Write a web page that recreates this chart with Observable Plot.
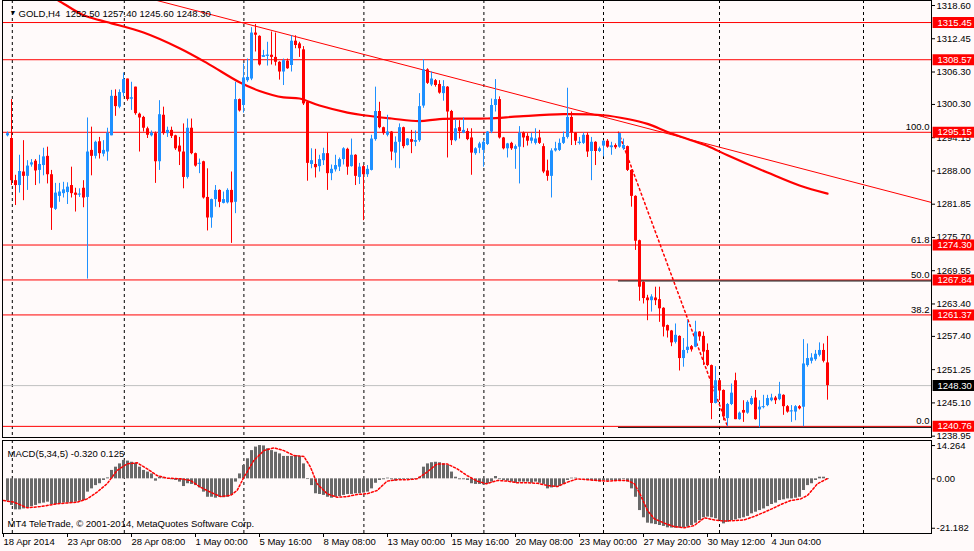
<!DOCTYPE html>
<html><head><meta charset="utf-8">
<script src="https://cdn.jsdelivr.net/npm/d3@7"></script>
<script src="https://cdn.jsdelivr.net/npm/@observablehq/plot@0.6"></script>
<style>
html,body{margin:0;padding:0;background:#fffafa;}
#wrap{position:relative;width:974px;height:551px;overflow:hidden;background:#fffafa;}
#wrap svg{position:absolute;left:0;}
</style></head><body><div id="wrap"></div>
<script>
// ---- Candles (H4 bars, index 0..205) ----
const opens = [1294.5,1294.0,1286.2,1285.3,1287.8,1287.0,1289.1,1289.8,1288.1,1289.0,
1290.7,1287.3,1280.9,1283.3,1283.8,1284.0,1285.3,1283.9,1283.6,1284.8,
1283.1,1291.8,1290.7,1293.4,1291.1,1291.5,1294.5,1301.8,1299.8,1302.4,
1305.0,1301.3,1303.5,1298.5,1297.9,1295.8,1294.5,1294.9,1289.7,1298.3,
1294.9,1295.5,1294.5,1292.6,1291.5,1286.8,1295.9,1291.2,1289.3,1289.7,
1283.1,1279.3,1282.7,1284.4,1282.0,1282.1,1284.4,1282.2,1301.2,1300.1,
1304.7,1305.0,1313.5,1312.9,1309.0,1309.2,1309.4,1309.0,1308.1,1306.3,
1308.3,1307.5,1312.0,1311.5,1310.4,1300.7,1289.2,1289.2,1288.8,1289.9,
1291.2,1287.5,1288.2,1288.7,1290.1,1292.0,1288.8,1290.9,1286.8,1288.8,
1287.3,1288.1,1293.8,1299.0,1296.0,1294.6,1295.2,1291.3,1293.3,1296.0,
1292.7,1293.8,1293.3,1293.6,1300.0,1306.7,1303.9,1304.7,1304.0,1302.3,
1303.5,1299.0,1293.6,1296.0,1295.0,1295.3,1294.1,1291.2,1292.2,1291.8,
1292.9,1295.2,1300.1,1301.2,1294.1,1292.1,1293.1,1292.0,1292.4,1295.0,
1294.4,1293.5,1293.1,1294.1,1292.5,1288.0,1287.0,1291.7,1291.8,1293.1,
1294.2,1297.9,1295.0,1293.1,1293.1,1294.6,1291.6,1293.3,1291.6,1292.6,
1293.5,1292.3,1292.7,1292.4,1292.1,1292.5,1288.1,1283.3,1275.1,1267.4,
1264.5,1264.0,1264.5,1264.2,1262.6,1259.4,1258.4,1256.3,1257.4,1253.3,
1254.8,1255.5,1255.4,1258.2,1257.4,1254.8,1252.0,1245.0,1249.2,1247.4,
1242.2,1244.8,1249.2,1242.0,1243.7,1243.2,1244.8,1246.0,1243.8,1244.3,
1244.6,1245.5,1246.0,1245.7,1246.5,1244.4,1243.5,1243.4,1244.4,1244.3,
1252.0,1252.8,1253.1,1253.9,1254.8,1252.50];
const highs = [1295.2,1301.2,1287.2,1290.9,1293.6,1289.9,1290.1,1290.1,1290.9,1292.2,
1292.4,1288.1,1285.7,1285.7,1285.9,1285.8,1288.7,1284.8,1284.7,1286.2,
1297.8,1296.1,1293.5,1294.2,1293.6,1295.9,1302.9,1303.0,1303.0,1306.1,
1305.0,1304.4,1303.5,1298.7,1298.1,1296.1,1295.4,1295.2,1301.0,1299.8,
1296.1,1296.1,1294.6,1294.2,1296.7,1297.6,1297.6,1291.3,1290.2,1289.8,
1288.4,1282.8,1285.3,1284.5,1284.1,1284.7,1287.8,1304.4,1301.3,1307.8,
1308.7,1314.5,1315.1,1313.0,1310.3,1311.8,1313.7,1313.5,1308.2,1308.7,
1308.7,1313.0,1313.0,1311.8,1311.0,1300.7,1292.1,1292.0,1290.9,1292.2,
1295.0,1289.1,1290.9,1290.4,1292.3,1292.2,1293.9,1291.0,1289.4,1289.0,
1289.0,1294.6,1303.5,1300.7,1296.1,1298.3,1295.3,1294.3,1296.7,1296.1,
1294.0,1295.5,1295.4,1302.3,1308.6,1306.9,1306.3,1304.9,1304.7,1304.7,
1303.6,1299.2,1297.5,1297.3,1297.8,1295.8,1295.8,1292.3,1293.3,1293.6,
1295.3,1301.3,1304.9,1301.7,1294.2,1293.1,1293.3,1292.8,1296.2,1295.2,
1294.9,1295.0,1295.8,1295.5,1293.0,1290.0,1292.1,1293.3,1293.9,1295.2,
1303.3,1298.9,1295.1,1294.2,1295.0,1295.0,1294.2,1293.4,1292.4,1293.6,
1293.8,1293.3,1293.0,1295.0,1293.9,1292.6,1288.2,1283.4,1275.2,1267.5,
1265.0,1265.1,1266.5,1266.5,1262.7,1259.5,1258.5,1259.7,1257.5,1257.0,
1260.3,1255.7,1260.2,1258.3,1258.2,1256.0,1252.1,1251.8,1249.3,1247.5,
1245.0,1248.6,1250.6,1243.4,1245.5,1245.5,1246.3,1247.4,1245.5,1246.5,
1246.5,1246.7,1246.3,1248.9,1246.6,1244.6,1244.6,1244.6,1244.6,1256.8,
1256.0,1254.2,1254.8,1256.2,1256.0,1257.40];
const lows = [1294.3,1285.3,1281.6,1283.9,1282.5,1284.4,1288.7,1285.3,1285.6,1287.1,
1285.6,1277.0,1280.7,1282.2,1283.0,1281.8,1283.0,1280.4,1283.1,1281.2,
1268.0,1287.1,1290.2,1290.2,1290.6,1289.8,1294.5,1298.1,1299.5,1301.7,
1300.9,1299.2,1298.3,1291.5,1295.2,1294.0,1294.3,1285.7,1288.1,1294.6,
1294.2,1294.0,1291.8,1289.0,1284.7,1286.5,1291.0,1288.7,1287.5,1282.8,
1276.9,1277.4,1281.3,1281.2,1281.9,1281.9,1274.6,1280.1,1298.9,1298.7,
1304.4,1304.7,1310.0,1307.4,1309.0,1307.4,1307.6,1307.4,1304.8,1303.8,
1306.8,1306.3,1310.6,1309.0,1300.1,1286.1,1288.4,1286.7,1287.8,1289.0,
1284.4,1286.2,1287.8,1287.9,1289.1,1287.2,1288.7,1285.3,1285.5,1278.8,
1286.8,1288.0,1293.5,1295.8,1294.6,1294.3,1289.9,1288.5,1288.4,1292.1,
1292.6,1291.2,1292.5,1293.3,1299.6,1304.0,1303.6,1303.5,1302.2,1300.9,
1290.4,1292.7,1293.4,1293.9,1294.9,1293.6,1287.2,1290.9,1291.2,1288.7,
1292.7,1294.9,1298.9,1293.9,1291.9,1290.4,1291.8,1288.3,1285.6,1292.3,
1292.6,1293.0,1292.8,1292.9,1287.5,1286.1,1283.0,1291.5,1291.6,1292.9,
1293.9,1292.7,1292.7,1292.8,1292.9,1290.5,1286.2,1289.0,1291.4,1290.6,
1292.2,1290.9,1292.0,1292.2,1291.8,1287.9,1281.3,1273.3,1263.9,1263.4,
1260.3,1261.9,1263.1,1260.0,1257.3,1257.1,1255.5,1256.0,1251.0,1251.7,
1254.2,1254.5,1255.3,1256.5,1252.0,1251.8,1242.0,1244.9,1245.5,1241.8,
1240.7,1244.6,1242.0,1241.9,1241.5,1243.0,1244.6,1241.9,1240.5,1244.0,
1244.4,1245.3,1244.8,1245.5,1242.8,1243.2,1241.5,1241.8,1243.8,1240.7,
1251.7,1252.3,1252.8,1253.6,1252.5,1245.60];
const closes = [1294.9,1286.2,1285.3,1287.9,1287.0,1288.9,1289.5,1288.0,1289.2,1290.6,
1287.3,1281.1,1283.9,1284.1,1284.5,1285.0,1283.8,1283.5,1283.7,1283.0,
1291.5,1290.7,1293.3,1291.2,1291.8,1295.0,1301.8,1299.9,1302.5,1304.9,
1301.2,1301.5,1298.6,1297.8,1295.9,1294.6,1295.0,1289.7,1298.4,1294.9,
1295.5,1294.4,1292.1,1291.5,1286.8,1295.9,1291.2,1288.9,1289.4,1283.0,
1279.3,1282.7,1284.4,1282.2,1282.7,1284.4,1282.1,1301.2,1299.1,1305.2,
1305.3,1313.5,1313.1,1307.6,1309.3,1309.4,1309.0,1308.1,1306.3,1308.4,
1306.9,1312.0,1311.2,1310.6,1300.4,1289.4,1289.9,1288.6,1290.1,1291.2,
1287.5,1288.3,1289.0,1290.1,1292.1,1288.7,1290.9,1287.0,1288.7,1287.3,
1288.3,1293.9,1299.0,1296.0,1294.9,1295.2,1291.5,1293.3,1296.0,1292.5,
1293.9,1293.3,1293.6,1299.9,1306.7,1304.2,1305.0,1303.8,1302.4,1303.6,
1298.9,1293.6,1295.8,1295.3,1295.5,1293.8,1291.3,1292.1,1293.0,1293.3,
1295.2,1300.1,1301.2,1294.1,1292.1,1293.0,1292.1,1292.5,1295.0,1294.1,
1293.5,1294.1,1293.9,1293.1,1287.8,1287.0,1291.7,1292.1,1293.1,1294.2,
1297.9,1295.0,1293.5,1293.3,1294.6,1291.5,1293.3,1291.6,1292.1,1293.5,
1292.4,1292.6,1292.3,1294.9,1292.7,1288.1,1283.3,1275.0,1266.5,1264.4,
1264.0,1264.7,1264.0,1262.5,1259.1,1258.4,1256.2,1257.6,1253.3,1254.8,
1255.4,1254.9,1258.2,1257.3,1254.5,1252.0,1245.0,1249.2,1247.3,1242.5,
1244.8,1246.9,1242.0,1243.2,1243.2,1245.2,1245.9,1242.0,1244.3,1244.4,
1245.9,1246.0,1245.5,1246.7,1244.4,1243.4,1243.6,1244.4,1244.0,1252.3,
1253.3,1253.4,1254.1,1254.8,1252.8,1248.30];

// ---- Moving average (key points: bar index, price) ----
const maIdx = [12,13,19,23,26,34,43,50,58,63,69,73,78,85,89,96,103,108,120,128,139,149,155,160,165,170,175,180,190,198,205];
const maVal = [1319.8,1319.4,1316.8,1315.9,1315.3,1313.6,1310.7,1307.9,1304.4,1302.8,1301.6,1301.4,1300.1,1298.8,1298.3,1297.7,1297.2,1297.6,1297.7,1298.1,1298.5,1298.3,1297.6,1296.7,1295.2,1293.9,1292.6,1290.9,1287.7,1285.3,1283.8];

// ---- Trend line and Fibonacci anchors ----
const trendIdx = [37, 231];
const trendVal = [1319.6, 1282.17];
const fibIdx = [152.75, 180];
const fibVal = [1295.15, 1240.76];
const fibNames = ["100.0", "61.8", "50.0", "38.2", "0.0"];
const fibPrices = [1295.15, 1274.30, 1267.84, 1261.37, 1240.76];
const fibDarkPrices = [1267.84, 1240.76];

// ---- Horizontal levels ----
const levelPrices = [1315.45, 1308.57, 1295.15, 1274.30, 1267.84, 1261.37, 1240.76];
const bidPrice = 1248.30;

// ---- Axes ----
const priceTicks = [1318.60, 1312.45, 1306.30, 1300.30, 1294.15, 1288.00, 1281.85, 1275.70, 1269.55, 1263.40, 1257.40, 1251.25, 1245.10, 1238.95];
const timeTickIdx = [-1, 15, 31, 47, 63, 79, 95, 111, 127, 143, 159, 175, 191];
const timeTickLabels = ["18 Apr 2014","23 Apr 08:00","28 Apr 08:00","1 May 00:00","5 May 16:00","8 May 08:00","13 May 00:00","15 May 16:00","20 May 08:00","23 May 00:00","27 May 20:00","30 May 12:00","4 Jun 04:00"];
const gridIdx = [1.2, 29.2, 59.1, 89.1, 119.1, 149, 178, 214];

// ---- MACD(5,34,5) ----
const macdHist = [-9.6,-11.4,-13.3,-13.3,-12.9,-12.4,-11.9,-11.4,-10.7,-10.4,
-10.0,-11.0,-11.0,-10.7,-10.4,-10.4,-10.4,-10.0,-9.6,-9.3,
-5.7,-4.3,-2.9,-2.1,-0.7,0.4,3.6,5.0,6.4,7.9,
7.6,7.1,6.7,5.0,3.6,2.9,2.1,-1.0,0.7,0.4,
0,-0.4,-0.7,-1.4,-3.3,-2.1,-2.4,-2.9,-3.9,-5.7,
-7.9,-7.9,-8.3,-7.9,-8.1,-7.9,-7.1,-1.4,2.1,5.7,
8.6,12.1,13.6,14.26,14.1,12.9,12.1,11.4,10.7,9.6,
9.6,9.6,10.0,9.6,6.4,-0.3,-2.9,-6.4,-6.7,-7.1,
-7.9,-8.3,-7.9,-7.6,-7.1,-6.7,-6.7,-6.4,-6.4,-6.1,
-5.7,-4.3,-1.9,-0.7,-0.4,0.3,-0.4,-1.0,-0.4,-0.4,
-0.3,-0.4,-0.3,0.7,5.0,6.4,6.9,7.1,6.9,6.4,
5.7,2.9,0.7,-0.4,-0.4,-0.7,-2.1,-2.4,-2.4,-2.6,
-2.1,-1.4,1.0,-0.4,-0.7,-1.0,-1.4,-1.9,-1.4,-1.4,
-1.4,-1.9,-1.4,-1.9,-2.4,-4.3,-3.9,-3.6,-3.3,-2.4,
-0.7,0.3,0.3,0,-0.1,-0.7,-0.7,-1.1,-1.4,-0.7,
-1.0,-0.7,-1.1,-0.7,-0.4,-1.4,-4.3,-7.9,-13.6,-16.7,
-19.0,-19.3,-19.6,-20.0,-20.4,-21.0,-21.1,-21.182,-21.1,-21.0,
-20.7,-20.0,-19.0,-17.9,-16.7,-16.4,-16.7,-17.1,-17.9,-19.3,
-18.6,-17.9,-17.6,-17.1,-16.7,-16.1,-15.0,-14.3,-13.6,-12.9,
-11.9,-11.0,-10.4,-9.3,-9.0,-8.6,-8.6,-8.3,-7.9,-5.0,
-2.9,-2.1,-0.7,0.7,0.7,-0.320];
const sigIdx = [-1,1.6,4.9,8.25,12.4,17.4,19.9,22.4,24.9,27.4,29.9,32.4,34.9,37.4,39.9,43.25,45.75,48.25,50.75,53.25,55.75,57.4,59.1,61.6,64.1,66.6,69.1,71.6,74.1,75.75,77.4,79.9,82.4,84.9,87.4,89.9,92.4,94.9,97.4,99.9,102.4,104.9,107.4,109.9,112.4,114.9,117.4,119.75,122.5,125,127.5,130,132.5,135,137.5,140,142.5,145,147.5,150,152.5,155,156.7,158.3,160,161.7,164.2,166.7,169.2,171.7,174.2,176.7,179.2,181.7,184.2,186.7,189.2,191.7,193.3,195.8,198.3,200,202.5,205];
const sigVal = [-9.3,-10,-12.4,-11.9,-10.7,-10,-8.6,-5.7,-2.1,3.6,6.4,6.9,4.3,1.4,0.3,0,-0.7,-3.6,-5.7,-7.6,-7.1,-5,0.7,7.9,12.1,13.3,12.1,10,9.6,5,-2.1,-6.4,-7.9,-7.6,-6.7,-6.4,-5,-1,-0.4,-0.4,0,2.9,6.4,6.4,4.3,1.4,-1,-2.1,-0.7,-1,-1.7,-1.7,-1.9,-2.9,-3.3,-1.4,0,-0.4,-0.7,-1,-0.7,-0.7,-2.1,-7.1,-13.6,-17.1,-19,-20.5,-21.0,-20,-16.7,-17.6,-18.1,-17.9,-17.6,-16.1,-14.3,-12.4,-11,-9.3,-8.6,-7.1,-2.1,0.125];
const macdTicks = [14.264, 0, -21.182];

// ---- build ----
const BLUE = "#1E90FF", RED = "#FF0000";
const W = 974, ML = 2, MR = 43;
const xDomain = [-1.25, 231];
const AX = xDomain[1];
const font = "'Liberation Sans', Arial, sans-serif";

const candles = opens.map((o, i) => ({i, o, h: highs[i], l: lows[i], c: closes[i]}));
const col = d => d.c >= d.o ? BLUE : RED;
const ma = maIdx.map((i, k) => ({i, v: maVal[k]}));
const trend = trendIdx.map((i, k) => ({i, v: trendVal[k]}));
const fibLine = fibIdx.map((i, k) => ({i, v: fibVal[k]}));
const fibLab = fibNames.map((n, k) => ({n, p: fibPrices[k]}));
const hist = macdHist.map((v, i) => ({i, v}));
const sig = sigIdx.map((i, k) => ({i, v: sigVal[k]}));
const labelMap = new Map(timeTickIdx.map((t, k) => [t, timeTickLabels[k]]));
const fmt2 = d => d.toFixed(2);

const header = `GOLD,H4  ${opens.at(-1).toFixed(2)} ${highs.at(-1).toFixed(2)} ${lows.at(-1).toFixed(2)} ${closes.at(-1).toFixed(2)}`;

const main = Plot.plot({
  width: W, height: 441,
  marginLeft: ML, marginRight: MR, marginTop: 0, marginBottom: 4,
  x: {domain: xDomain, axis: null, label: null},
  y: {domain: [1238.70, 1319.525], label: null},
  style: {fontFamily: font, fontSize: "9.5px", background: "transparent", color: "black"},
  marks: [
    Plot.ruleX(gridIdx, {stroke: "black", strokeDasharray: "3,3"}),
    Plot.ruleY([bidPrice], {stroke: "#c0c0c0"}),
    Plot.ruleY(levelPrices, {stroke: RED}),
    Plot.ruleY(fibDarkPrices, {y: d => d, x1: fibIdx[0], x2: AX, stroke: "black", dy: 1}),
    Plot.line(fibLine, {x: "i", y: "v", stroke: RED, strokeDasharray: "2,3"}),
    Plot.line(trend, {x: "i", y: "v", stroke: RED, strokeWidth: 1}),
    Plot.line(ma, {x: "i", y: "v", stroke: RED, strokeWidth: 2.2, curve: "catmull-rom"}),
    Plot.ruleX(candles, {x: "i", y1: "l", y2: "h", stroke: col}),
    Plot.ruleX(candles, {x: "i", y1: "o", y2: "c", stroke: col, strokeWidth: 3}),
    Plot.ruleY(candles.filter(d => Math.abs(d.o - d.c) < 0.3), {y: "c", x1: d => d.i - 0.375, x2: d => d.i + 0.375, stroke: col}),
    Plot.text(fibLab, {x: AX, y: "p", text: "n", textAnchor: "end", dx: -2, dy: -5, fill: "black"}),
    Plot.axisY(priceTicks, {anchor: "right", label: null, tickSize: 3, tickPadding: 2, tickFormat: fmt2}),
    Plot.ruleY(levelPrices, {y: d => d, x1: AX + 0.4, x2: AX + 11, stroke: RED, strokeWidth: 11}),
    Plot.text(levelPrices, {x: AX, y: d => d, text: fmt2, textAnchor: "start", dx: 6, fill: "white"}),
    Plot.ruleY([bidPrice], {y: d => d, x1: AX + 0.4, x2: AX + 11, stroke: "black", strokeWidth: 11}),
    Plot.text([bidPrice], {x: AX, y: d => d, text: fmt2, textAnchor: "start", dx: 6, fill: "white"}),
    Plot.frame({stroke: "black"}),
    Plot.text(["▼"], {text: d => d, frameAnchor: "top-left", dx: 7, dy: 10, fontSize: 7, fill: "black"}),
    Plot.text([header], {text: d => d, frameAnchor: "top-left", dx: 16, dy: 10, textAnchor: "start", fill: "black"})
  ]
});

const macdLabel = `MACD(5,34,5) ${macdHist.at(-1).toFixed(3)} ${sigVal.at(-1).toFixed(3)}`;
const macd = Plot.plot({
  width: W, height: 112,
  marginLeft: ML, marginRight: MR, marginTop: 1, marginBottom: 18,
  x: {domain: xDomain, label: null},
  y: {domain: [-23.43, 16.43], label: null},
  style: {fontFamily: font, fontSize: "9.5px", background: "transparent", color: "black"},
  marks: [
    Plot.ruleX(gridIdx, {stroke: "black", strokeDasharray: "3,3"}),
    Plot.ruleX(hist, {x: "i", y1: 0, y2: "v", stroke: "#696969", strokeWidth: 3}),
    Plot.line(sig, {x: "i", y: "v", stroke: RED, strokeDasharray: "2,2"}),
    Plot.axisY(macdTicks, {anchor: "right", label: null, tickSize: 3, tickPadding: 2, tickFormat: d => d === 0 ? "0.00" : String(d)}),
    Plot.axisX(timeTickIdx, {anchor: "bottom", label: null, tickSize: 4, tickPadding: 1, textAnchor: "start", tickFormat: d => labelMap.get(d)}),
    Plot.frame({stroke: "black"}),
    Plot.text([macdLabel], {text: d => d, frameAnchor: "top-left", dx: 5, dy: 9.5, textAnchor: "start", fill: "black"}),
    Plot.text(["MT4 TeleTrade, © 2001-2014, MetaQuotes Software Corp."], {text: d => d, frameAnchor: "bottom-left", dx: 5, dy: -7, textAnchor: "start", fill: "black"})
  ]
});

const wrap = document.getElementById("wrap");
main.style.top = "0px";
macd.style.top = "439px";
wrap.appendChild(main);
wrap.appendChild(macd);
</script>
</body></html>
